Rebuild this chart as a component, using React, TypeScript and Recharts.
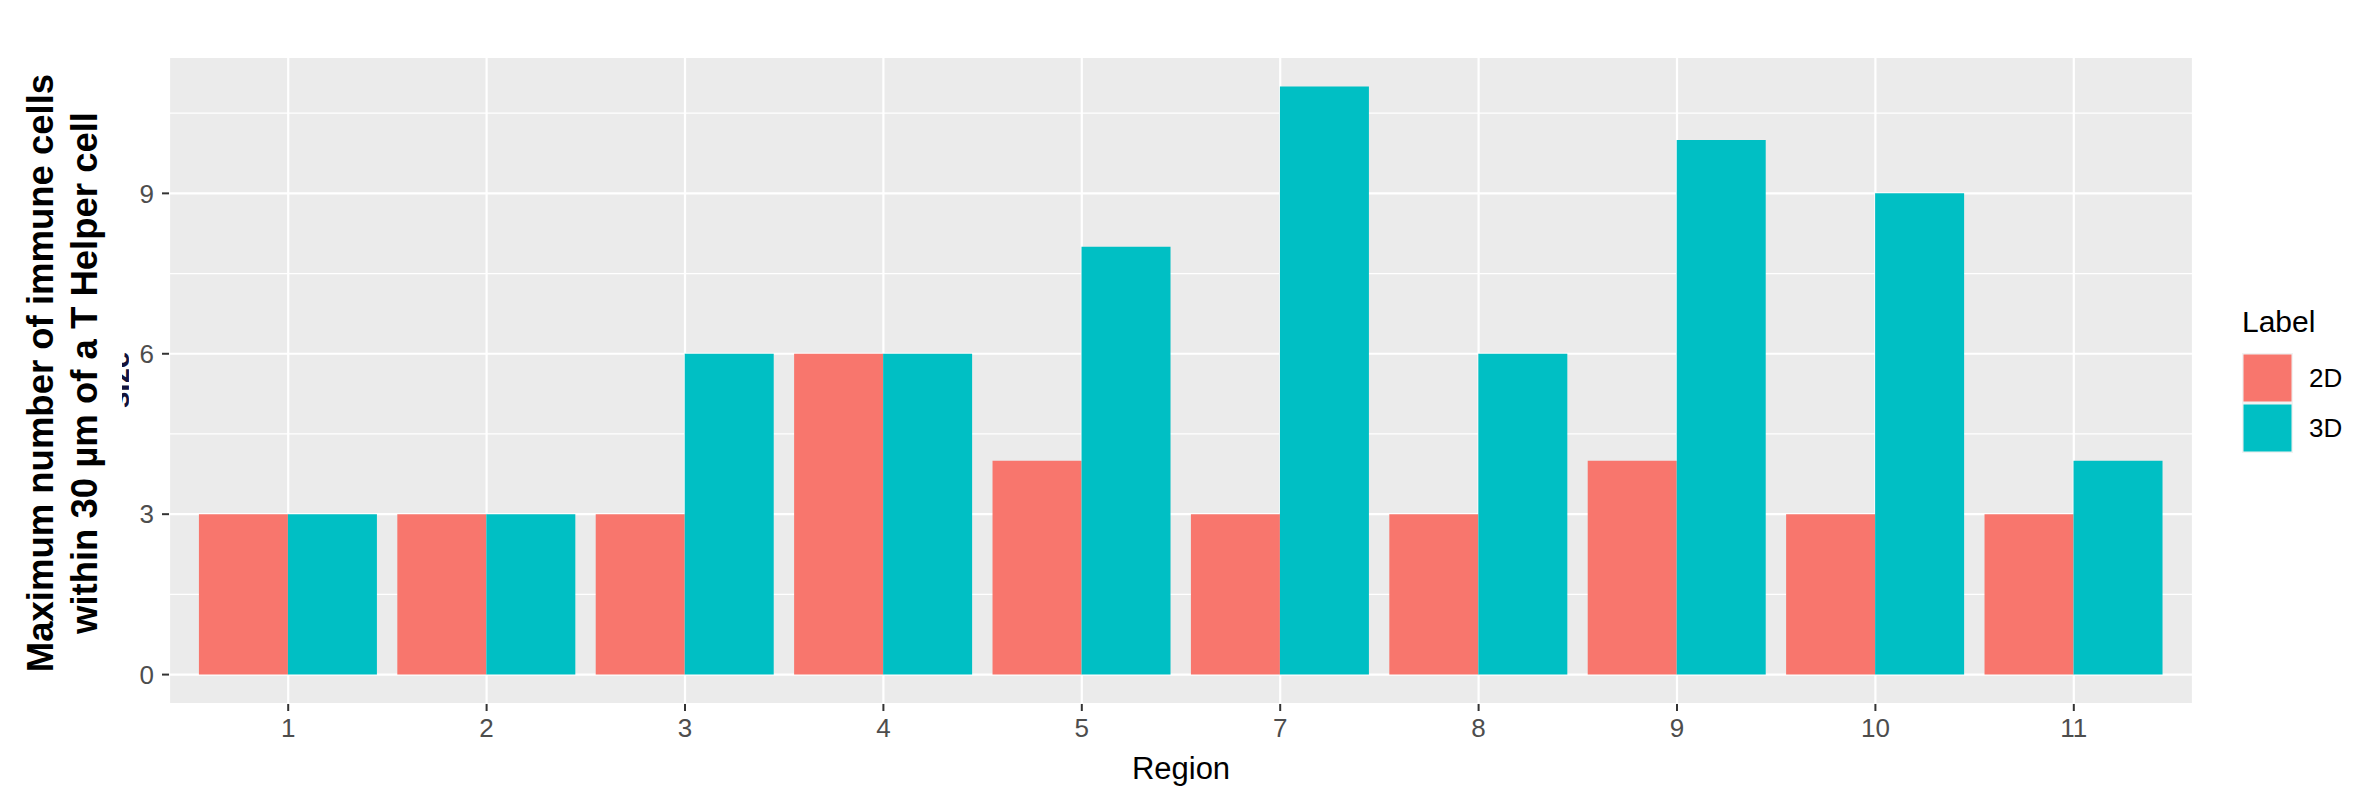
import React from 'react';
import { BarChart, Bar, XAxis, YAxis, CartesianGrid } from 'recharts';

const regions = ['1', '2', '3', '4', '5', '7', '8', '9', '10', '11'];
const values2D = [3, 3, 3, 6, 4, 3, 3, 4, 3, 3];
const values3D = [3, 3, 6, 6, 8, 11, 6, 10, 9, 4];
const yTicks = [0, 3, 6, 9];
const yMinorTicks = [1.5, 4.5, 7.5, 10.5];
const yDomain = [-0.55, 11.55];
const seriesKeys = ['d2', 'd3'];
const seriesNames = ['2D', '3D'];
const seriesColors = ['#F8766D', '#00BFC4'];
const legendTitle = 'Label';
const xTitle = 'Region';
const yTitleLines = ['Maximum number of immune cells', 'within 30 µm of a T Helper cell'];
const hiddenTitle = 'size';

const data = regions.map((r, i) => ({ region: r, d2: values2D[i], d3: values3D[i] }));

const FONT = '"Liberation Sans", Arial, sans-serif';

const minorGen = (props: any) => {
  const s = props?.yAxis?.scale;
  if (!s) return [];
  const f = typeof s === 'function' ? s : s.map;
  return yMinorTicks.map((v) => Number(f(v)));
};

const XTitle = (props: any) => {
  const vb = props.viewBox || {};
  return (
    <text x={vb.x + vb.width / 2} y={vb.y + 75} textAnchor="middle" fontFamily={FONT} fontSize={31} fill="#000">
      {xTitle}
    </text>
  );
};

const YTitle = (props: any) => {
  const vb = props.viewBox || {};
  const cx = vb.x - 56;
  const cy = 373;
  const hx = vb.x + 13;
  return (
    <g>
      <svg x={hx} y={345} width={7} height={70} overflow="hidden">
        <text
          transform="translate(6.5, 35) rotate(-90)"
          textAnchor="middle"
          fontFamily={FONT}
          fontWeight="bold"
          fontSize={30}
          fill="#12123a"
        >
          {hiddenTitle}
        </text>
      </svg>
      <text transform={`translate(${cx}, ${cy}) rotate(-90)`} textAnchor="middle" fontFamily={FONT} fontWeight="bold" fontSize={36.5} fill="#000">
        <tspan x={0} y={0}>{yTitleLines[0]}</tspan>
        <tspan x={0} y={44}>{yTitleLines[1]}</tspan>
      </text>
    </g>
  );
};

export default function App() {
  return (
    <div style={{ position: 'absolute', left: 0, top: 0, width: 2367, height: 803, background: '#fff' }}>
      <BarChart
        width={2367}
        height={803}
        data={data}
        margin={{ top: 57, right: 174, bottom: 39, left: 109 }}
        barCategoryGap="5%"
        barGap={0}
      >
        <CartesianGrid fill="#EBEBEB" stroke="#FFFFFF" strokeWidth={2.2} />
        <CartesianGrid vertical={false} fill="none" stroke="#FFFFFF" strokeWidth={1.3} horizontalCoordinatesGenerator={minorGen} />
        <XAxis
          dataKey="region"
          type="category"
          interval={0}
          padding={{ left: 20, right: 20 }}
          height={60}
          axisLine={false}
          tickLine={{ stroke: '#333333', strokeWidth: 2 }}
          tickSize={7}
          tickMargin={8}
          tick={{ fill: '#4D4D4D', fontSize: 26, fontFamily: FONT }}
          label={<XTitle />}
        />
        <YAxis
          type="number"
          domain={yDomain}
          ticks={yTicks}
          width={60}
          axisLine={false}
          tickLine={{ stroke: '#333333', strokeWidth: 2 }}
          tickSize={7}
          tickMargin={8}
          tick={{ fill: '#4D4D4D', fontSize: 26, fontFamily: FONT }}
          allowDataOverflow
          label={<YTitle />}
        />
        {seriesKeys.map((k, i) => (
          <Bar key={k} dataKey={k} name={seriesNames[i]} fill={seriesColors[i]} isAnimationActive={false} />
        ))}
      </BarChart>
      <div style={{ position: 'absolute', left: 2242, top: 305, fontFamily: FONT, color: '#000' }}>
        <div style={{ fontSize: 30, lineHeight: '34px', height: 48 }}>{legendTitle}</div>
        {seriesNames.map((n, i) => (
          <div key={n} style={{ display: 'flex', alignItems: 'center', height: 50 }}>
            <svg width={51} height={50} style={{ display: 'block' }}>
              <rect x={0} y={0} width={51} height={50} fill="#F2F2F2" />
              <rect x={1.5} y={1.5} width={48} height={47} fill={seriesColors[i]} />
            </svg>
            <span style={{ fontSize: 26, marginLeft: 16 }}>{n}</span>
          </div>
        ))}
      </div>
    </div>
  );
}
